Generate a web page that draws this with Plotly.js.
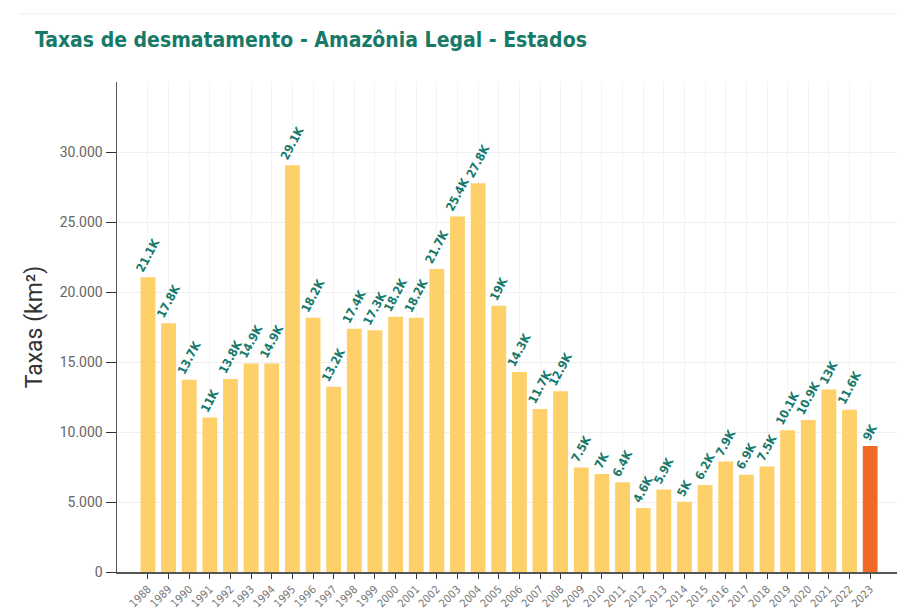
<!DOCTYPE html>
<html>
<head>
<meta charset="utf-8">
<script src="https://cdn.plot.ly/plotly-3.0.1.min.js"></script>
<style>html,body{margin:0;padding:0;background:#fff;}#chart{width:897px;height:614px;}</style>
</head>
<body>
<div id="chart"></div>
<script>
var years = ["1988","1989","1990","1991","1992","1993","1994","1995","1996","1997","1998","1999","2000","2001","2002","2003","2004","2005","2006","2007","2008","2009","2010","2011","2012","2013","2014","2015","2016","2017","2018","2019","2020","2021","2022","2023"];
var taxas = [21050,17770,13730,11030,13786,14896,14896,29059,18161,13227,17383,17259,18226,18165,21651,25396,27772,19014,14286,11651,12911,7464,7000,6418,4571,5891,5012,6207,7893,6947,7536,10129,10851,13038,11594,9001];
var highlightYear = "2023";
var baseColor = "#FDD06A";
var highlightColor = "#EF6A26";

function fmtK(v){
  var s = (v/1000).toFixed(1);
  if (s.slice(-2) === ".0") s = s.slice(0,-2);
  return s + "K";
}
var labels = taxas.map(fmtK);
var colors = years.map(function(y){ return y === highlightYear ? highlightColor : baseColor; });

var trace = {
  type: "bar",
  x: years,
  y: taxas,
  text: labels,
  textposition: "outside",
  textangle: -62,
  constraintext: "none",
  cliponaxis: false,
  textfont: {family: "'DejaVu Sans Condensed', Roboto, sans-serif", size: 12, color: "#16796B", weight: "bold"},
  marker: {color: colors},
  hoverinfo: "x+y"
};

var layout = {
  width: 897, height: 614,
  margin: {l: 117, r: 0, t: 82, b: 42},
  paper_bgcolor: "#fff", plot_bgcolor: "#fff",
  bargap: 0.28,
  separators: ",.",
  font: {family: "Roboto, Arial, sans-serif", color: "#555"},
  title: {
    text: "<b>Taxas de desmatamento - Amazônia Legal - Estados</b>",
    font: {family: "'DejaVu Sans Condensed', 'Roboto', sans-serif", size: 21, color: "#177A68"},
    x: 0.039, xanchor: "left", xref: "container",
    y: 0.935, yanchor: "middle", yref: "container"
  },
  xaxis: {
    type: "category",
    range: [-1.5, 36.3],
    tickangle: -45,
    tickfont: {size: 11, color: "#777", family: "'DejaVu Sans Condensed', Roboto, sans-serif"},
    ticks: "outside", ticklen: 5, tickcolor: "#333",
    showline: true, linecolor: "#555", linewidth: 1.5,
    showgrid: true, gridcolor: "#f3f3f3",
    automargin: false
  },
  yaxis: {
    range: [0, 35000],
    tickvals: [0,5000,10000,15000,20000,25000,30000],
    tickformat: ",d",
    tickfont: {size: 14, color: "#666", family: "Roboto, Arial, sans-serif"},
    ticks: "outside", ticklen: 10, tickcolor: "#333",
    showline: true, linecolor: "#555", linewidth: 1.5,
    showgrid: true, gridcolor: "#efefef",
    zeroline: false,
    automargin: false,
    title: {text: "Taxas (km²)", font: {size: 23, color: "#333", family: "Roboto, Arial, sans-serif"}, standoff: 10}
  },
  shapes: [{type: "line", xref: "paper", yref: "paper", x0: -0.125, x1: 1.0, y0: 1.139, y1: 1.139, line: {color: "#eeeeee", width: 1}}],
  showlegend: false
};

Plotly.newPlot("chart", [trace], layout, {displayModeBar: false, staticPlot: true});
</script>
</body>
</html>
